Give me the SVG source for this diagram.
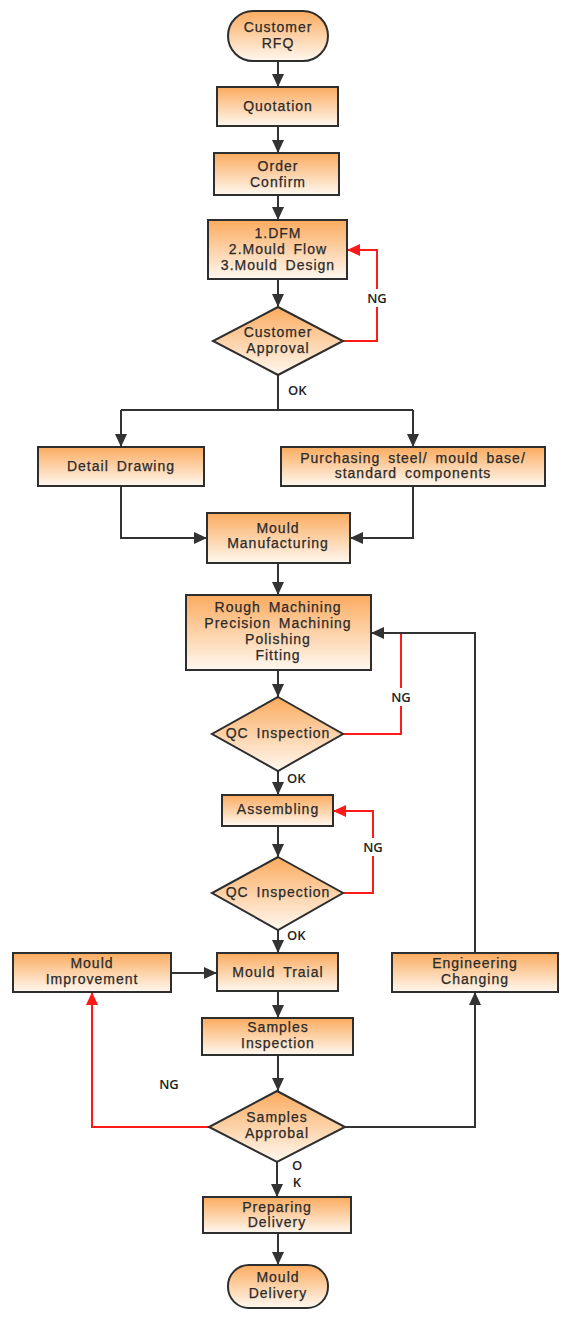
<svg xmlns="http://www.w3.org/2000/svg" width="569" height="1317" viewBox="0 0 569 1317">
<defs>
<linearGradient id="g" x1="0" y1="0" x2="0" y2="1">
<stop offset="0" stop-color="#fbab5f"/>
<stop offset="1" stop-color="#fff8f0"/>
</linearGradient>
<marker id="ab" markerUnits="userSpaceOnUse" markerWidth="14" markerHeight="12" refX="13" refY="6" orient="auto">
<path d="M0,0 L13,6 L0,12 z" fill="#333"/>
</marker>
<marker id="ar" markerUnits="userSpaceOnUse" markerWidth="14" markerHeight="12" refX="13" refY="6" orient="auto">
<path d="M0,0 L13,6 L0,12 z" fill="#ff1a1a"/>
</marker>
</defs>
<style>
.n rect, .n polygon { fill: url(#g); stroke: #2e2e2e; stroke-width: 2; }
.n text { font-family: "Liberation Sans", Arial, sans-serif; font-size: 14px; letter-spacing: 1px; word-spacing: 3px; fill: #2a2a2a; stroke: #2a2a2a; stroke-width: 0.25; text-anchor: middle; }
.c path { fill: none; stroke: #333; stroke-width: 2; }
.c path.r { stroke: #ff1a1a; }
.lb { font-family: "Open Sans", "DejaVu Sans", sans-serif; font-size: 13px; font-weight: 600; fill: #222; }
.m { text-anchor: middle; }
</style>
<g id="connectors" class="c">
<path d="M278,61 V87" marker-end="url(#ab)"/>
<path d="M278,126 V153" marker-end="url(#ab)"/>
<path d="M278,195 V220" marker-end="url(#ab)"/>
<path d="M278,279 V307" marker-end="url(#ab)"/>
<path class="r" d="M343,341 H377 V250 H347" marker-end="url(#ar)"/>
<path d="M278,375 V410 M121,410 H413"/>
<path d="M121,410 V447" marker-end="url(#ab)"/>
<path d="M413,410 V447" marker-end="url(#ab)"/>
<path d="M121,486 V538 H207" marker-end="url(#ab)"/>
<path d="M413,486 V538 H350" marker-end="url(#ab)"/>
<path d="M278,563 V595" marker-end="url(#ab)"/>
<path d="M278,670 V697" marker-end="url(#ab)"/>
<path class="r" d="M343,734 H401 V633"/>
<path d="M475,953 V633 H371" marker-end="url(#ab)"/>
<path d="M278,771 V795" marker-end="url(#ab)"/>
<path d="M278,826 V857" marker-end="url(#ab)"/>
<path class="r" d="M343,893 H373 V811 H333" marker-end="url(#ar)"/>
<path d="M278,930 V953" marker-end="url(#ab)"/>
<path d="M171,973 H217" marker-end="url(#ab)"/>
<path d="M278,991 V1018" marker-end="url(#ab)"/>
<path d="M278,1055 V1091" marker-end="url(#ab)"/>
<path class="r" d="M209,1127 H92 V992" marker-end="url(#ar)"/>
<path d="M345,1127 H475 V992" marker-end="url(#ab)"/>
<path d="M277,1162 V1197" marker-end="url(#ab)"/>
<path d="M278,1233 V1265" marker-end="url(#ab)"/>
</g>
<g id="labels">
<rect x="365" y="289" width="24" height="18" fill="#fff"/>
<text class="lb m" x="377" y="303">NG</text>
<rect x="389" y="688" width="24" height="18" fill="#fff"/>
<text class="lb m" x="401" y="702">NG</text>
<rect x="361" y="838" width="24" height="18" fill="#fff"/>
<text class="lb m" x="373" y="852">NG</text>
<text class="lb m" x="169" y="1089">NG</text>
<text class="lb" x="288" y="395">OK</text>
<text class="lb" x="287" y="783">OK</text>
<text class="lb" x="287" y="940">OK</text>
<text class="lb m" x="297" y="1170">O</text>
<text class="lb m" x="297" y="1187">K</text>
</g>
<g id="customer-rfq" class="n"><rect x="228" y="11" width="100" height="50" rx="25"/><text x="278" y="32">Customer</text><text x="278" y="48">RFQ</text></g>
<g id="quotation" class="n"><rect x="217" y="87" width="121" height="39"/><text x="278" y="111">Quotation</text></g>
<g id="order-confirm" class="n"><rect x="214" y="153" width="125" height="42"/><text x="278" y="171">Order</text><text x="278" y="187">Confirm</text></g>
<g id="design" class="n"><rect x="208" y="220" width="139" height="59"/><text x="278" y="238">1.DFM</text><text x="278" y="254">2.Mould Flow</text><text x="278" y="270">3.Mould Design</text></g>
<g id="customer-approval" class="n"><polygon points="278,307 343,341 278,375 213,341"/><text x="278" y="337">Customer</text><text x="278" y="353">Approval</text></g>
<g id="detail-drawing" class="n"><rect x="38" y="447" width="166" height="39"/><text x="121" y="471">Detail Drawing</text></g>
<g id="purchasing" class="n"><rect x="281" y="447" width="264" height="39"/><text x="413" y="463">Purchasing steel/ mould base/</text><text x="413" y="478">standard components</text></g>
<g id="mould-manufacturing" class="n"><rect x="207" y="513" width="143" height="50"/><text x="278" y="533">Mould</text><text x="278" y="548">Manufacturing</text></g>
<g id="machining" class="n"><rect x="186" y="595" width="185" height="75"/><text x="278" y="612">Rough Machining</text><text x="278" y="628">Precision Machining</text><text x="278" y="644">Polishing</text><text x="278" y="660">Fitting</text></g>
<g id="qc-inspection-1" class="n"><polygon points="278,697 343,734 278,771 212,734"/><text x="278" y="738">QC Inspection</text></g>
<g id="assembling" class="n"><rect x="222" y="795" width="111" height="31"/><text x="278" y="814">Assembling</text></g>
<g id="qc-inspection-2" class="n"><polygon points="278,857 343,893 278,930 212,893"/><text x="278" y="897">QC Inspection</text></g>
<g id="mould-improvement" class="n"><rect x="13" y="953" width="158" height="39"/><text x="92" y="968">Mould</text><text x="92" y="984">Improvement</text></g>
<g id="mould-traial" class="n"><rect x="217" y="953" width="121" height="38"/><text x="278" y="977">Mould Traial</text></g>
<g id="engineering-changing" class="n"><rect x="392" y="953" width="166" height="39"/><text x="475" y="968">Engineering</text><text x="475" y="984">Changing</text></g>
<g id="samples-inspection" class="n"><rect x="202" y="1018" width="151" height="37"/><text x="278" y="1032">Samples</text><text x="278" y="1048">Inspection</text></g>
<g id="samples-approbal" class="n"><polygon points="277,1091 345,1127 277,1162 209,1127"/><text x="277" y="1122">Samples</text><text x="277" y="1138">Approbal</text></g>
<g id="preparing-delivery" class="n"><rect x="203" y="1197" width="148" height="36"/><text x="277" y="1212">Preparing</text><text x="277" y="1227">Delivery</text></g>
<g id="mould-delivery" class="n"><rect x="228" y="1265" width="100" height="43" rx="21"/><text x="278" y="1282">Mould</text><text x="278" y="1298">Delivery</text></g>
</svg>
